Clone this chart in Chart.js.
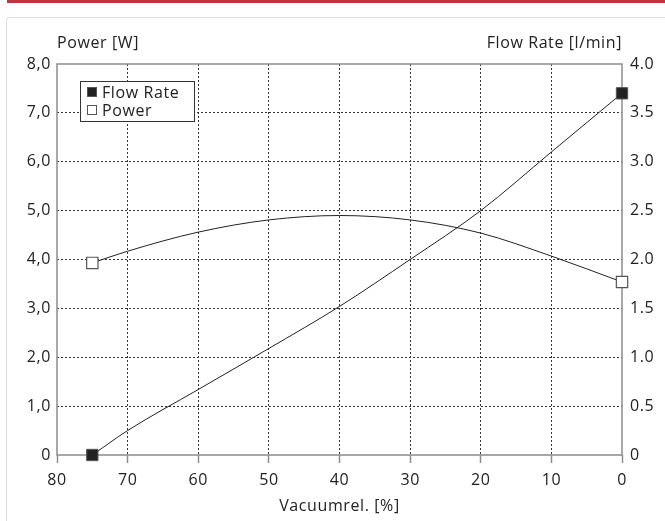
<!DOCTYPE html>
<html>
<head>
<meta charset="utf-8">
<script src="https://cdn.jsdelivr.net/npm/chart.js@4.4.1/dist/chart.umd.min.js"></script>
<style>
  html, body { margin: 0; padding: 0; background: #fff; }
  #wrap { position: relative; width: 665px; height: 521px; overflow: hidden; }
  .topbar { position: absolute; left: 7px; top: 0; right: 0; height: 3px; background: #c8323e; }
  .card { position: absolute; left: 6px; top: 17px; width: 720px; height: 600px; border: 1px solid #dedede; border-radius: 3px; }
  canvas { position: absolute; left: 0; top: 0; }
</style>
</head>
<body>
<div id="wrap">
  <div class="topbar"></div>
  <div class="card"></div>
  <canvas id="chart" width="665" height="521"></canvas>
</div>
<script>
// Data
const vacuum = [75, 70, 60, 50, 40, 30, 20, 10, 0];               // Vacuumrel. [%]
const flowRate = [0, 0.25, 0.67, 1.09, 1.52, 2.0, 2.5, 3.1, 3.7];   // l/min
const power = [3.93, 4.17, 4.56, 4.81, 4.9, 4.81, 4.54, 4.07, 3.54]; // W

const vacuumTicks = [0, 10, 20, 30, 40, 50, 60, 70, 80];
const powerTicks = [0, 1, 2, 3, 4, 5, 6, 7, 8];
const flowTicks = [0, 0.5, 1, 1.5, 2, 2.5, 3, 3.5, 4];

const FONT = '"Open Sans", sans-serif';
const SIZE = 16;
const TEXT = '#222';
const FRAME = '#8c8c8c';

// only the first and last point of each curve carries a marker
const endMarker = ctx => (ctx.dataIndex === 0 || ctx.dataIndex === ctx.dataset.data.length - 1) ? 8 : 0;

// frame, axis titles and the boxed legend
const extras = {
    id: 'extras',
    beforeDraw(chart) {
        // the original font is wider than anything installed
        chart.ctx.letterSpacing = '0.6px';
    },
    beforeDatasetsDraw(chart) {
        const { ctx, chartArea: a } = chart;
        ctx.save();
        ctx.strokeStyle = FRAME;
        ctx.lineWidth = 1.5;
        ctx.strokeRect(a.left, a.top, a.right - a.left, a.bottom - a.top);
        ctx.restore();
    },
    afterDraw(chart) {
        const { ctx, chartArea: a } = chart;
        ctx.save();
        ctx.letterSpacing = '0.6px';
        ctx.fillStyle = TEXT;
        ctx.font = SIZE + 'px ' + FONT;
        ctx.textBaseline = 'middle';
        ctx.textAlign = 'left';
        ctx.fillText('Power [W]', a.left, 43);
        ctx.textAlign = 'right';
        ctx.fillText('Flow Rate [l/min]', a.right, 43);
        ctx.textAlign = 'center';
        ctx.fillText('Vacuumrel. [%]', (a.left + a.right) / 2, 506);

        // legend
        const lx = a.left + 23, ly = a.top + 17, lw = 114, lh = 40;
        ctx.fillStyle = '#fff';
        ctx.fillRect(lx, ly, lw, lh);
        ctx.strokeStyle = '#333';
        ctx.lineWidth = 1;
        ctx.strokeRect(lx + 0.5, ly + 0.5, lw, lh);
        chart.data.datasets.forEach((ds, i) => {
            const cy = ly + 11 + i * 18;
            ctx.fillStyle = ds.pointBackgroundColor;
            ctx.fillRect(lx + 7, cy - 5, 10, 10);
            ctx.strokeStyle = ds.pointBorderColor;
            ctx.strokeRect(lx + 7.5, cy - 4.5, 9, 9);
            ctx.fillStyle = TEXT;
            ctx.textAlign = 'left';
            ctx.font = SIZE + 'px ' + FONT;
            ctx.fillText(ds.label, lx + 22, cy + 1);
        });
        ctx.restore();
    }
};

const ctx = document.getElementById('chart').getContext('2d');
new Chart(ctx, {
    type: 'line',
    data: {
        datasets: [{
            label: 'Flow Rate',
            data: vacuum.map((v, i) => ({ x: v, y: flowRate[i] })),
            yAxisID: 'yFlow',
            borderColor: '#222',
            borderWidth: 1,
            pointStyle: 'rect',
            pointRadius: endMarker,
            pointBackgroundColor: '#222',
            pointBorderColor: '#555',
            pointBorderWidth: 1,
            cubicInterpolationMode: 'monotone',
            clip: false
        }, {
            label: 'Power',
            data: vacuum.map((v, i) => ({ x: v, y: power[i] })),
            yAxisID: 'yPower',
            borderColor: '#222',
            borderWidth: 1,
            pointStyle: 'rect',
            pointRadius: endMarker,
            pointBackgroundColor: '#fff',
            pointBorderColor: '#555',
            pointBorderWidth: 1.2,
            cubicInterpolationMode: 'monotone',
            clip: false
        }]
    },
    options: {
        responsive: false,
        animation: false,
        events: [],
        layout: { padding: { top: 64, left: 0, right: 0, bottom: 0 } },
        plugins: { legend: { display: false }, tooltip: { enabled: false } },
        scales: {
            x: {
                type: 'linear',
                reverse: true,
                min: 0,
                max: 80,
                afterBuildTicks: s => { s.ticks = vacuumTicks.map(v => ({ value: v })); },
                afterFit: s => { s.height = 66; },
                border: { display: false, dash: [2, 2] },
                grid: {
                    color: c => (c.tick && (c.tick.value === 0 || c.tick.value === 80)) ? 'rgba(0,0,0,0)' : '#333',
                    lineWidth: 1,
                    tickLength: 8,
                    tickColor: FRAME,
                    tickWidth: 1.5,
                    tickBorderDash: []
                },
                ticks: { color: TEXT, font: { family: FONT, size: SIZE }, padding: 8, maxRotation: 0 }
            },
            yPower: {
                position: 'left',
                min: 0,
                max: 8,
                afterBuildTicks: s => { s.ticks = powerTicks.map(v => ({ value: v })); },
                afterFit: s => { s.width = 57; },
                border: { display: false, dash: [2, 2] },
                grid: {
                    color: c => (c.tick && (c.tick.value === 0 || c.tick.value === 8)) ? 'rgba(0,0,0,0)' : '#333',
                    lineWidth: 1,
                    drawTicks: false
                },
                ticks: {
                    color: TEXT,
                    font: { family: FONT, size: SIZE },
                    padding: 6,
                    callback: v => v === 0 ? '0' : v.toFixed(1).replace('.', ',')
                }
            },
            yFlow: {
                position: 'right',
                min: 0,
                max: 4,
                afterBuildTicks: s => { s.ticks = flowTicks.map(v => ({ value: v })); },
                afterFit: s => { s.width = 43; },
                border: { display: false },
                grid: { drawOnChartArea: false, drawTicks: false },
                ticks: {
                    color: TEXT,
                    font: { family: FONT, size: SIZE },
                    padding: 8,
                    callback: v => v === 0 ? '0' : v.toFixed(1)
                }
            }
        }
    },
    plugins: [extras]
});
</script>
</body>
</html>
